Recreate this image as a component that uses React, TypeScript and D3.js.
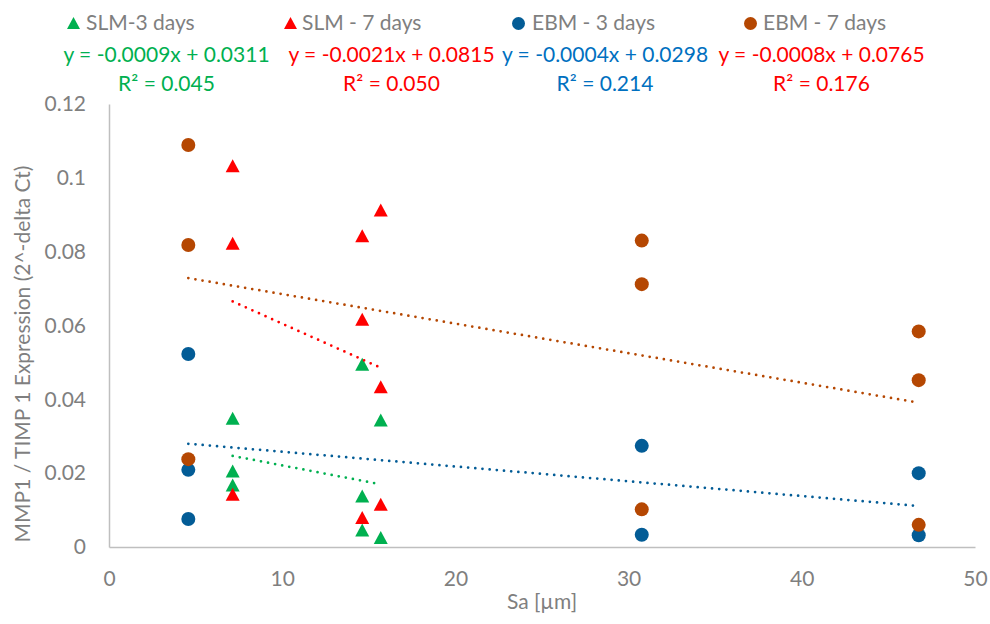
import React, { useEffect, useRef } from 'react';
import * as d3 from 'd3';

// series values (x = Sa in µm, y = MMP1/TIMP1 expression)
const slm3X = [7.14, 7.14, 7.14, 14.62, 14.62, 14.62, 15.69, 15.69];
const slm3Y = [0.0349, 0.0206, 0.0168, 0.0495, 0.0138, 0.0046, 0.0344, 0.0026];
const slm7X = [7.14, 7.14, 7.14, 14.62, 14.62, 14.62, 15.69, 15.69, 15.69];
const slm7Y = [0.1033, 0.0823, 0.0143, 0.0843, 0.0617, 0.008, 0.0913, 0.0434, 0.0116];
const ebm3X = [4.58, 4.58, 4.58, 30.76, 30.76, 46.75, 46.75];
const ebm3Y = [0.0523, 0.0209, 0.0076, 0.0274, 0.0033, 0.02, 0.0032];
const ebm7X = [4.58, 4.58, 4.58, 30.76, 30.76, 30.76, 46.75, 46.75, 46.75];
const ebm7Y = [0.1089, 0.0818, 0.0238, 0.083, 0.0712, 0.0102, 0.0584, 0.0452, 0.006];

const seriesNames = ['SLM-3 days', 'SLM - 7 days', 'EBM - 3 days', 'EBM - 7 days'];
const seriesColors = ['#00B050', '#FF0000', '#035C96', '#B54702'];
const seriesShapes = ['triangle', 'triangle', 'circle', 'circle'];

// linear trendlines as printed on the chart
const trendSlopes = [-0.0009, -0.0021, -0.0004, -0.0008];
const trendIntercepts = [0.0311, 0.0815, 0.0298, 0.0765];
const equationTexts = ['y = -0.0009x + 0.0311', 'y = -0.0021x + 0.0815', 'y = -0.0004x + 0.0298', 'y = -0.0008x + 0.0765'];
const r2Texts = ['R² = 0.045', 'R² = 0.050', 'R² = 0.214', 'R² = 0.176'];
const equationColors = ['#00B050', '#FF0000', '#0070C0', '#FF0000'];

const xTicks = [0, 10, 20, 30, 40, 50];
const yTicks = [0, 0.02, 0.04, 0.06, 0.08, 0.1, 0.12];
const yTickLabels = ['0', '0.02', '0.04', '0.06', '0.08', '0.1', '0.12'];

const FONT = 'Lato, "Liberation Sans", sans-serif';
const GREY = '#7F7F7F';

function trianglePath(cx: number, cy: number, w: number, h: number) {
  const p = d3.path();
  p.moveTo(cx, cy - h / 2);
  p.lineTo(cx + w / 2, cy + h / 2);
  p.lineTo(cx - w / 2, cy + h / 2);
  p.closePath();
  return p.toString();
}

export default function App() {
  const ref = useRef<SVGSVGElement>(null);

  useEffect(() => {
    const svg = d3.select(ref.current);
    svg.selectAll('*').remove();

    const x = d3.scaleLinear().domain([0, 50]).range([109, 975]);
    const y = d3.scaleLinear().domain([0, 0.12]).range([547, 104]);

    // y axis
    const yAxis = svg.append('g')
      .attr('transform', 'translate(109,0)')
      .call(d3.axisLeft(y).tickValues(yTicks).tickSize(0).tickPadding(23)
        .tickFormat((d, i) => yTickLabels[i]));
    yAxis.select('.domain').attr('stroke', '#BFBFBF').attr('stroke-width', 1.5);
    yAxis.selectAll('text').attr('fill', GREY).style('font-family', FONT).style('font-size', '21px');

    // x axis
    const xAxis = svg.append('g')
      .attr('transform', 'translate(0,547)')
      .call(d3.axisBottom(x).tickValues(xTicks).tickSize(0).tickPadding(24)
        .tickFormat(d3.format('d') as any));
    xAxis.select('.domain').attr('stroke', '#BFBFBF').attr('stroke-width', 1.5);
    xAxis.selectAll('text').attr('fill', GREY).style('font-family', FONT).style('font-size', '21px');

    // axis titles
    svg.append('text')
      .attr('x', 542).attr('y', 609)
      .attr('text-anchor', 'middle')
      .attr('fill', GREY).style('font-family', FONT).style('font-size', '21px')
      .text('Sa [µm]');

    svg.append('text')
      .attr('transform', 'translate(30,354) rotate(-90)')
      .attr('text-anchor', 'middle')
      .attr('fill', GREY).style('font-family', FONT).style('font-size', '21px')
      .text('MMP1 / TIMP 1 Expression (2^-delta Ct)');

    const xs = [slm3X, slm7X, ebm3X, ebm7X];
    const ys = [slm3Y, slm7Y, ebm3Y, ebm7Y];

    // markers
    xs.forEach((sx, s) => {
      const pts = sx.map((v, i) => [v, ys[s][i]]);
      const g = svg.append('g');
      if (seriesShapes[s] === 'circle') {
        g.selectAll('circle').data(pts).enter().append('circle')
          .attr('cx', d => x(d[0])).attr('cy', d => y(d[1]))
          .attr('r', 7).attr('fill', seriesColors[s]);
      } else {
        g.selectAll('path').data(pts).enter().append('path')
          .attr('d', d => trianglePath(x(d[0]), y(d[1]), 14, 13))
          .attr('fill', seriesColors[s]);
      }
    });

    // dotted trendlines over each series' x-range
    xs.forEach((sx, s) => {
      const ext = d3.extent(sx) as [number, number];
      const line = d3.line<number>()
        .x(d => x(d))
        .y(d => y(trendSlopes[s] * d + trendIntercepts[s]));
      svg.append('path')
        .datum(ext)
        .attr('d', line)
        .attr('fill', 'none')
        .attr('stroke', seriesColors[s])
        .attr('stroke-width', 2.75)
        .attr('stroke-linecap', 'round')
        .attr('stroke-dasharray', '0 7.2');
    });

    // legend
    const legendMarkX = [73.5, 290.5, 518.5, 750.5];
    const legendTextX = [86, 302, 532, 763];
    seriesNames.forEach((name, s) => {
      if (seriesShapes[s] === 'circle') {
        svg.append('circle').attr('cx', legendMarkX[s]).attr('cy', 23.5).attr('r', 6.5).attr('fill', seriesColors[s]);
      } else {
        svg.append('path').attr('d', trianglePath(legendMarkX[s], 23, 13, 12)).attr('fill', seriesColors[s]);
      }
      svg.append('text')
        .attr('x', legendTextX[s]).attr('y', 30)
        .attr('fill', GREY).style('font-family', FONT).style('font-size', '21px')
        .text(name);
    });

    // trendline equations
    const eqX = [166.5, 391.5, 605, 821.5];
    equationTexts.forEach((t, s) => {
      svg.append('text')
        .attr('x', eqX[s]).attr('y', 62)
        .attr('text-anchor', 'middle')
        .attr('fill', equationColors[s]).style('font-family', FONT).style('font-size', '21px')
        .text(t);
      svg.append('text')
        .attr('x', eqX[s]).attr('y', 91)
        .attr('text-anchor', 'middle')
        .attr('fill', equationColors[s]).style('font-family', FONT).style('font-size', '21px')
        .text(r2Texts[s]);
    });
  }, []);

  return (
    <svg ref={ref} width={990} height={624}
      style={{ position: 'absolute', left: 0, top: 0, background: '#fff' }} />
  );
}
